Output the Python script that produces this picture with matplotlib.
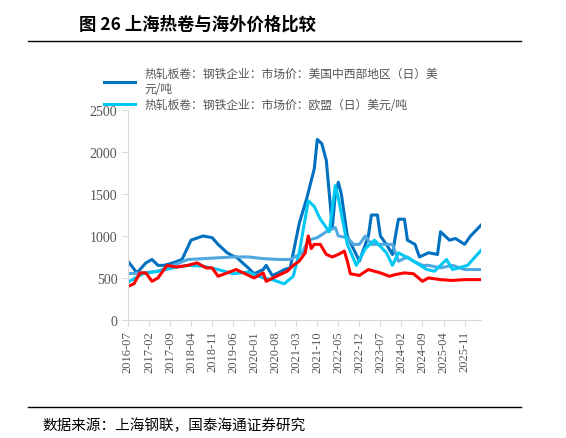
import matplotlib
matplotlib.use("Agg")
import matplotlib.pyplot as plt
import numpy as np

plt.rcParams['font.family'] = ['Noto Sans CJK SC', 'DejaVu Sans']

tick_labels = ["2016-07","2017-02","2017-09","2018-04","2018-11","2019-06","2020-01","2020-08",
               "2021-03","2021-10","2022-05","2022-12","2023-07","2024-02","2024-09","2025-04","2025-11"]

us_m = [0,3,6,8,10,12,15,18,21,25,28,30,33,35,36,40,42,45,46,48,50,52,54,57,59.5,62,63,64.5,66,68,69,70,71,73,75,77,78,80,81,83,84,86,88,89,90,92,93,95.5,97,100,103,104,107,109,112,114,117.5]
us_v = [700,560,680,720,650,650,680,720,950,1000,980,900,800,760,750,620,550,600,650,530,560,600,620,1150,1450,1800,2150,2100,1900,1100,1500,1640,1500,1000,850,700,800,1000,1250,1250,1000,900,780,1000,1200,1200,950,900,750,800,780,1050,950,970,900,1000,1130]

eu_m = [0,5,10,15,20,25,30,35,40,45,48,52,55,57,60,62,64,66,67,69,70,73,76,79,82,86,88,90,95,99.5,102,106,108,113,117.5]
eu_v = [450,550,580,620,650,640,600,550,570,500,480,430,520,800,1420,1350,1200,1100,1050,1600,1450,900,650,850,950,800,650,800,700,600,580,720,600,650,830]

mid_m = [0,5,10,15,20,25,30,35,40,45,50,54,58,60,63,66,69,70,73,75,77,79,81,84,88,90,93,95,98,100,104,108,112,117.5]
mid_v = [550,560,580,650,720,730,740,750,750,730,720,720,800,950,980,1050,1100,1000,980,900,900,1000,900,900,900,700,750,700,650,650,620,650,600,600]

sh_m = [0,2,4,6,8,10,13,16,20,23,26,28,30,33,36,39,42,45,46,50,53,55,57,59,60,61,62,64,66,68,70,72,73,74,77,80,82,84,87,89,92,95,98,100,104,108,112,117.5]
sh_v = [400,430,560,560,460,500,650,630,650,680,620,620,520,560,600,550,500,560,460,530,580,650,700,800,1000,850,900,900,780,750,780,820,700,550,530,600,580,560,520,540,560,550,460,500,480,470,480,480]

fig = plt.figure(figsize=(5.66, 4.39), dpi=100)
ax = fig.add_axes([0.226, 0.269, 0.624, 0.478])
l_us, = ax.plot(us_m, us_v, color='#0070c0', lw=2.2)
ax.plot(mid_m, mid_v, color='#4fa8e0', lw=2.2)
l_eu, = ax.plot(eu_m, eu_v, color='#00c8f5', lw=2.2)
ax.plot(sh_m, sh_v, color='#ff0000', lw=2.2)

ax.set_xlim(0, 117.5)
ax.set_ylim(0, 2500)
ax.set_yticks(range(0, 2501, 500))
ax.set_xticks(np.arange(len(tick_labels)) * 7)
ax.set_xticklabels(tick_labels, rotation=90, fontsize=9, family='Liberation Serif', color='#555555')
for t in ax.get_yticklabels():
    t.set_family('Liberation Serif'); t.set_fontsize(10); t.set_color('#555555')
for s in ['top', 'right']:
    ax.spines[s].set_visible(False)
ax.spines['left'].set_color('#d9d9d9'); ax.spines['bottom'].set_color('#d9d9d9')
ax.tick_params(colors='#d9d9d9', labelcolor='#555555', length=4)

fig.legend([l_us, l_eu], ["热轧板卷：钢铁企业：市场价：美国中西部地区（日）美\n元/吨",
                          "热轧板卷：钢铁企业：市场价：欧盟（日）美元/吨"],
           loc='upper left', bbox_to_anchor=(0.165, 0.87), frameon=False, fontsize=8.5,
           labelcolor='#555555', handlelength=2.6, labelspacing=0.3)

fig.text(0.14, 0.945, "图 26 上海热卷与海外价格比较", fontsize=12.5, fontweight='bold', va='center')
fig.add_artist(plt.Line2D([0.05, 0.92], [0.905, 0.905], color='black', lw=1))
fig.add_artist(plt.Line2D([0.05, 0.92], [0.07, 0.07], color='black', lw=1))
fig.text(0.075, 0.03, "数据来源：上海钢联，国泰海通证券研究", fontsize=10.5, va='center')
fig.savefig("out.png", dpi=100)
